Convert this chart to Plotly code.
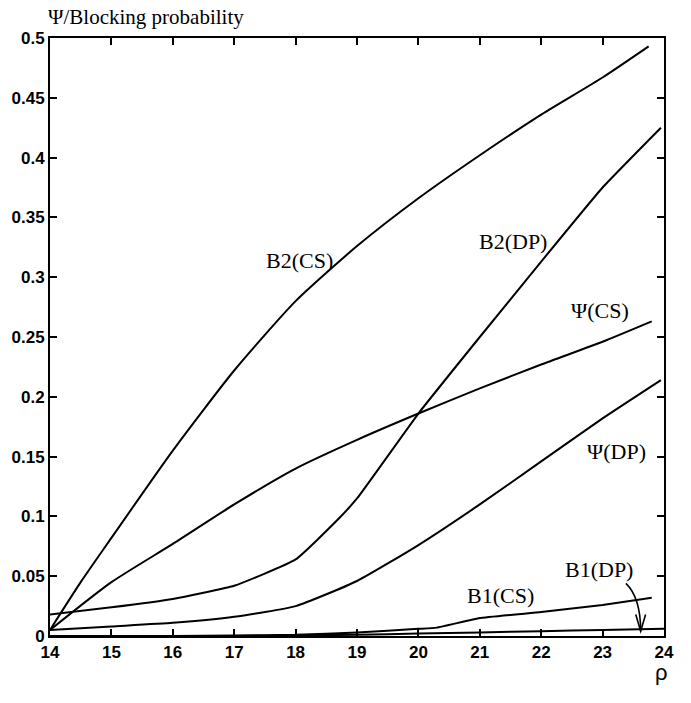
import plotly.graph_objects as go

# ---- data ----
b2_cs_x = [14, 14.5, 15, 16, 17, 18, 19, 20, 21, 22, 23, 23.75]
b2_cs = [0.005, 0.045, 0.082, 0.155, 0.222, 0.28, 0.326, 0.366, 0.402, 0.436, 0.467, 0.493]

b2_dp_x = [14, 15, 16, 17, 18, 18.7, 19, 20, 21, 22, 23, 23.95]
b2_dp = [0.018, 0.024, 0.031, 0.042, 0.064, 0.098, 0.115, 0.186, 0.25, 0.313, 0.375, 0.425]

psi_cs_x = [14, 15, 16, 17, 18, 19, 20, 21, 22, 23, 23.8]
psi_cs = [0.005, 0.045, 0.077, 0.11, 0.14, 0.164, 0.186, 0.207, 0.227, 0.246, 0.263]

psi_dp_x = [14, 15, 16, 17, 18, 19, 20, 21, 22, 23, 23.95]
psi_dp = [0.005, 0.008, 0.011, 0.016, 0.025, 0.046, 0.076, 0.11, 0.146, 0.182, 0.214]

b1_cs_x = [14, 15, 16, 17, 18, 19, 20, 20.3, 21, 22, 23, 23.8]
b1_cs = [0.0, 0.0, 0.0, 0.0005, 0.001, 0.003, 0.006, 0.007, 0.015, 0.02, 0.026, 0.032]

b1_dp_x = [14, 15, 16, 17, 18, 19, 20, 21, 22, 23, 24]
b1_dp = [0.0, 0.0, 0.0, 0.0, 0.0005, 0.001, 0.002, 0.003, 0.004, 0.005, 0.006]

x_ticks = list(range(14, 25))
y_tickvals = [0, 0.05, 0.1, 0.15, 0.2, 0.25, 0.3, 0.35, 0.4, 0.45, 0.5]
y_ticktext = ["0", "0.05", "0.1", "0.15", "0.2", "0.25", "0.3", "0.35", "0.4", "0.45", "0.5"]

series = [
    (b2_cs_x, b2_cs, "B2(CS)", 0.6),
    (b2_dp_x, b2_dp, "B2(DP)", 0.4),
    (psi_cs_x, psi_cs, "Ψ(CS)", 0.6),
    (psi_dp_x, psi_dp, "Ψ(DP)", 0.5),
    (b1_cs_x, b1_cs, "B1(CS)", 0.3),
    (b1_dp_x, b1_dp, "B1(DP)", 0.3),
]

# label positions (data coords)
labels = [
    ("B2(CS)", 18.06, 0.314),
    ("B2(DP)", 21.54, 0.33),
    ("Ψ(CS)", 22.96, 0.272),
    ("Ψ(DP)", 23.22, 0.154),
    ("B1(CS)", 21.34, 0.034),
    ("B1(DP)", 22.94, 0.056),
]

fig = go.Figure()
for xs, ys, name, sm in series:
    fig.add_trace(go.Scatter(x=xs, y=ys, mode="lines", name=name,
                             line=dict(color="black", width=2, shape="spline", smoothing=sm),
                             showlegend=False))

serif = "Liberation Serif, Times New Roman, serif"
tickfont = dict(family="Liberation Sans Narrow, Arial Narrow, Liberation Sans, Arial",
                size=17, color="black", weight="bold")

for text, lx, ly in labels:
    fig.add_annotation(x=lx, y=ly, xref="x", yref="y", text=text, showarrow=False,
                       font=dict(family=serif, size=22, color="black"))

# curved arrow to B1(DP)
fig.add_shape(type="path", xref="x", yref="y",
              path="M 23.38,0.044 Q 23.62,0.032 23.62,0.004",
              line=dict(color="black", width=1.6))
fig.add_shape(type="path", xref="x", yref="y",
              path="M 23.54,0.018 L 23.62,0.004 L 23.70,0.018",
              line=dict(color="black", width=1.6))

fig.add_annotation(x=-0.006, y=1.035, xref="paper", yref="paper", xanchor="left",
                   yanchor="middle", text="Ψ/Blocking probability", showarrow=False,
                   font=dict(family=serif, size=21, color="black"))
fig.add_annotation(x=1.01, y=-0.085, xref="paper", yref="paper",
                   text="ρ", showarrow=False,
                   font=dict(family="Liberation Sans, Arial", size=22, color="black"))

axis_common = dict(showline=True, linecolor="black", linewidth=2, mirror="ticks",
                   ticks="inside", ticklen=7, tickwidth=1.5, tickcolor="black",
                   showgrid=False, zeroline=False, tickfont=tickfont)

fig.update_xaxes(range=[14, 24], tickvals=x_ticks, **axis_common)
fig.update_yaxes(range=[0, 0.5], tickvals=y_tickvals, ticktext=y_ticktext, **axis_common)

fig.update_layout(width=691, height=703,
                  margin=dict(l=50, r=27, t=38, b=67),
                  plot_bgcolor="white", paper_bgcolor="white")

fig.write_html("out.html")
